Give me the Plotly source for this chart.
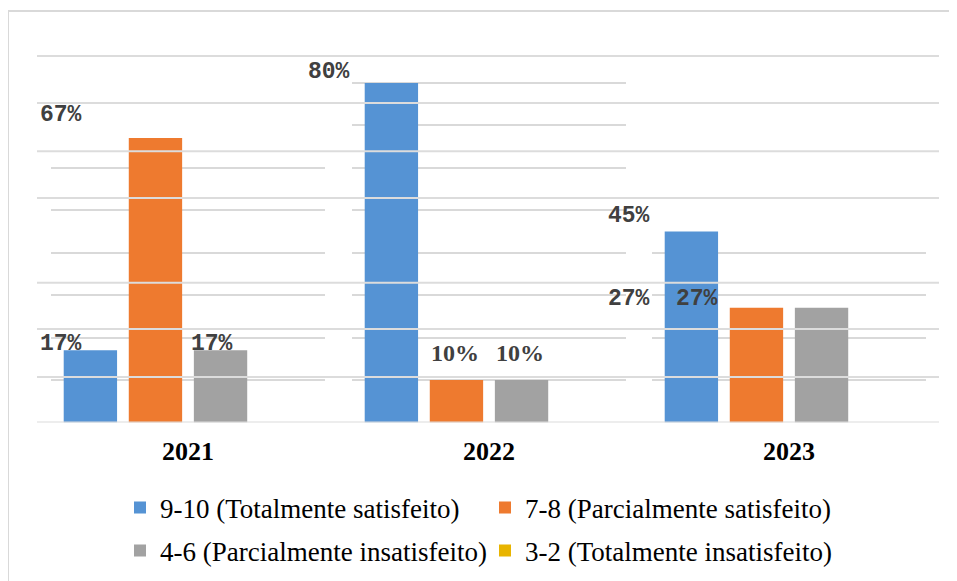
import plotly.graph_objects as go

years = ['2021', '2022', '2023']
series_names = [
    '9-10 (Totalmente satisfeito)',
    '7-8 (Parcialmente satisfeito)',
    '4-6 (Parcialmente insatisfeito)',
    '3-2 (Totalmente insatisfeito)',
]
totalmente_satisfeito = [17, 80, 45]
parcialmente_satisfeito = [67, 10, 27]
parcialmente_insatisfeito = [17, 10, 27]
totalmente_insatisfeito = [0, 0, 0]
series_values = [totalmente_satisfeito, parcialmente_satisfeito,
                 parcialmente_insatisfeito, totalmente_insatisfeito]

series_colors = ['#5593d4', '#ee7a2f', '#a2a2a2', '#e8b400']
legend_ids = ['legend', 'legend', 'legend2', 'legend2']

# label placement (px offsets from group centre / bar top), not data
label_offsets = {
    (0, 0): (-127, 6), (1, 0): (-127, 23), (2, 0): (24, 6),
    (0, 1): (-160, 11), (1, 1): (-34, 27), (2, 1): (31, 27),
    (0, 2): (-160, 15), (1, 2): (-160, 9), (2, 2): (-92, 9),
}
serif_labels = {(1, 1), (2, 1)}

W, H = 957, 581
OFF = 8  # page body margin


def px(x):
    return (x - OFF) / W


def py(y):
    return 1 - (y - OFF) / H


group_px = [(51, 325), (352, 626), (652, 926)]
y_top = 87
px_per_unit = 4.243
base_px = 422.4
y_dom = [py(base_px), py(base_px - y_top * px_per_unit)]
# the long grid lines that run over the bars
long_grid = [0, 10.7, 22.0, 32.9, 52.9, 63.9, 75.3, 86.35]

grid_col = '#d9d9d9'
label_col = '#404040'

fig = go.Figure()
annotations = []
layout = {}

for g, year in enumerate(years):
    suf = '' if g == 0 else str(g + 1)
    for s, name in enumerate(series_names):
        fig.add_trace(go.Bar(
            x=[year], y=[series_values[s][g]],
            name=name, legendgroup=name, legend=legend_ids[s],
            showlegend=(g == 0),
            xaxis='x' + suf, yaxis='y' + suf,
            marker=dict(color=series_colors[s], line=dict(width=0)),
            hoverinfo='skip',
        ))
        if (s, g) in label_offsets:
            dx, dy = label_offsets[(s, g)]
            serif = (s, g) in serif_labels
            annotations.append(dict(
                xref='x' + suf, yref='y' + suf,
                x=0, y=series_values[s][g],  # single category -> index 0
                text=f'{series_values[s][g]}%',
                showarrow=False, xanchor='center', yanchor='middle',
                xshift=dx, yshift=dy,
                font=dict(family='Liberation Serif' if serif else 'Liberation Mono',
                          size=24 if serif else 23, color=label_col,
                          weight='bold'),
            ))

    top_grid = (max(v[g] for v in series_values) // 10) * 10
    x0, x1 = group_px[g]
    layout['xaxis' + suf] = dict(
        domain=[px(x0), px(x1)], anchor='y' + suf, type='category',
        range=[-0.5, 0.5], autorange=False,
        showgrid=False, zeroline=False, showline=False,
        ticks='outside', ticklen=5, tickcolor='rgba(0,0,0,0)',
        tickfont=dict(family='Liberation Serif', size=26, color='black', weight='bold'),
    )
    layout['yaxis' + suf] = dict(
        domain=y_dom, anchor='x' + suf, range=[0, y_top], autorange=False,
        tickvals=list(range(10, top_grid + 1, 10)),
        showticklabels=False, zeroline=False,
        gridcolor=grid_col, gridwidth=2,
    )

shapes = [dict(type='rect', xref='paper', yref='paper',
               x0=px(8), x1=1.05, y0=-0.05, y1=py(11),
               line=dict(color=grid_col, width=2), layer='below')]
for v in long_grid:
    shapes.append(dict(type='line', xref='paper', yref='y',
                       x0=px(37), x1=px(939), y0=v, y1=v,
                       line=dict(color='#dcdcdc', width=2), layer='above'))

legend_font = dict(family='Liberation Serif', size=27, color='black')
fig.update_layout(
    width=W, height=H,
    margin=dict(l=0, r=0, t=0, b=0),
    paper_bgcolor='white', plot_bgcolor='rgba(0,0,0,0)',
    barmode='group', bargap=0.05, bargroupgap=0.18,
    annotations=annotations,
    legend=dict(orientation='h', x=px(120), xanchor='left', y=py(508),
                yanchor='middle', entrywidth=320, font=legend_font,
                bgcolor='rgba(0,0,0,0)', traceorder='normal'),
    legend2=dict(orientation='h', x=px(120), xanchor='left', y=py(551),
                 yanchor='middle', entrywidth=320, font=legend_font,
                 bgcolor='rgba(0,0,0,0)', traceorder='normal'),
    shapes=shapes,
    **layout,
)

fig.write_html('out.html')
